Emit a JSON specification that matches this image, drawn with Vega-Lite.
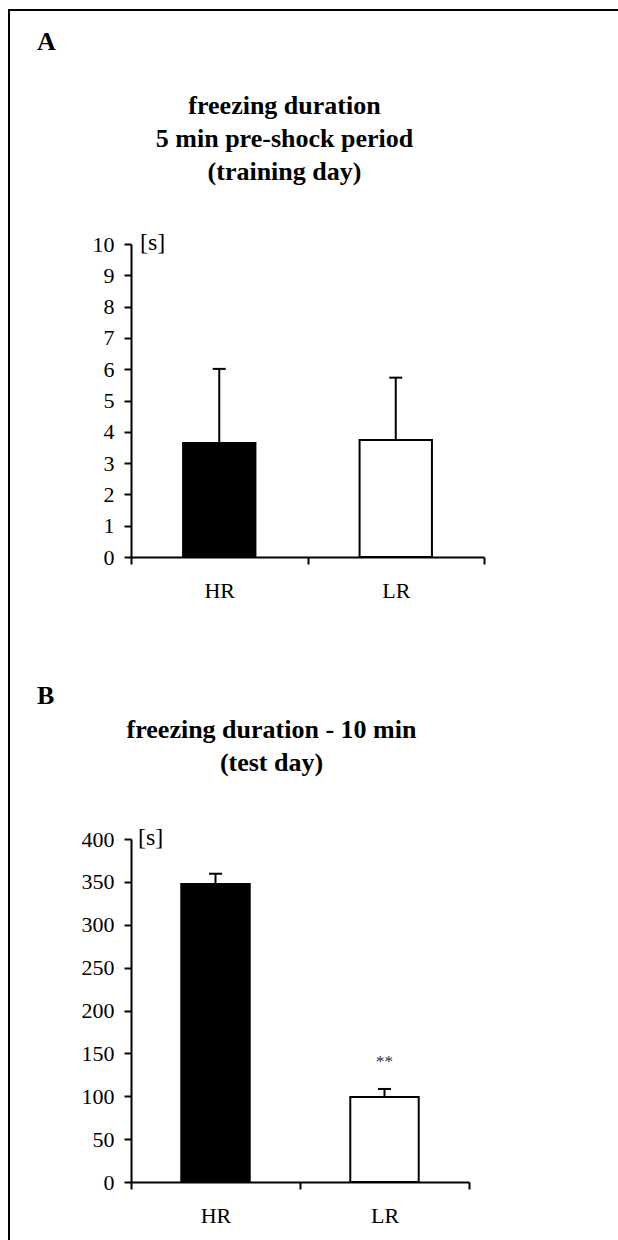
{
  "$schema": "https://vega.github.io/schema/vega-lite/v6.json",
  "background": "white",
  "padding": {"left": 8, "top": 9, "right": 0, "bottom": 0},
  "config": {
    "font": "Liberation Serif",
    "view": {"stroke": null},
    "axis": {
      "labelFont": "Liberation Serif",
      "labelFontSize": 22,
      "labelColor": "black",
      "domainColor": "black",
      "tickColor": "black",
      "domainWidth": 2,
      "tickWidth": 2,
      "tickSize": 7,
      "grid": false,
      "title": null,
      "labelPadding": 10,
      "labelOverlap": false
    },
    "axisX": {"labelPadding": 16, "labelAngle": 0, "tickBand": "extent"},
    "axisY": {"minExtent": 60},
    "title": {
      "font": "Liberation Serif",
      "fontWeight": "bold",
      "fontSize": 26,
      "color": "black",
      "lineHeight": 33
    },
    "concat": {"spacing": 82}
  },
  "datasets": {
    "training": [
      {"group": "HR", "freezing": 3.64, "upper": 6.01},
      {"group": "LR", "freezing": 3.74, "upper": 5.73}
    ],
    "trainingUnit": [{"unit": "[s]", "at": 10}],
    "test": [
      {"group": "HR", "freezing": 347.5, "upper": 359.5},
      {"group": "LR", "freezing": 99, "upper": 108.5}
    ],
    "testUnit": [{"unit": "[s]", "at": 400}],
    "testSig": [{"group": "LR", "at": 140, "label": "**"}]
  },
  "vconcat": [
    {
      "title": {"text": "A", "anchor": "start", "dx": -34, "offset": 38},
      "vconcat": [
        {
          "width": 353,
          "height": 313,
          "title": {
            "text": ["freezing duration", "5 min pre-shock period", "(training day)"],
            "anchor": "middle",
            "dx": -23,
            "offset": 46
          },
          "layer": [
            {
              "data": {"name": "training"},
              "mark": {"type": "bar", "width": {"band": 0.41}, "stroke": "black", "strokeWidth": 2},
              "encoding": {
                "x": {"field": "group", "type": "nominal", "scale": {"paddingInner": 0, "paddingOuter": 0}},
                "y": {"field": "freezing", "type": "quantitative", "scale": {"domain": [0, 10]}, "axis": {"values": [0, 1, 2, 3, 4, 5, 6, 7, 8, 9, 10], "tickCount": 11}},
                "fill": {"field": "group", "type": "nominal", "scale": {"domain": ["HR", "LR"], "range": ["black", "white"]}, "legend": null}
              }
            },
            {
              "data": {"name": "training"},
              "mark": {"type": "rule", "strokeWidth": 2, "color": "black"},
              "encoding": {
                "x": {"field": "group", "type": "nominal"},
                "y": {"field": "freezing", "type": "quantitative", "axis": {"values": [0, 1, 2, 3, 4, 5, 6, 7, 8, 9, 10], "tickCount": 11}},
                "y2": {"field": "upper"},
                "stroke": {
                  "field": "upper",
                  "type": "quantitative",
                  "scale": {"range": ["black", "black"]},
                  "legend": {
                    "orient": "none",
                    "legendX": -123,
                    "legendY": -235,
                    "direction": "vertical",
                    "gradientLength": 1231,
                    "gradientThickness": 2,
                    "gradientStrokeWidth": 0,
                    "title": null,
                    "labelExpr": "''",
                    "labelOpacity": 0,
                    "padding": 0
                  }
                }
              }
            },
            {
              "data": {"name": "training"},
              "mark": {"type": "tick", "size": 13, "thickness": 2, "color": "black", "opacity": 1},
              "encoding": {
                "x": {"field": "group", "type": "nominal"},
                "y": {"field": "upper", "type": "quantitative", "axis": {"values": [0, 1, 2, 3, 4, 5, 6, 7, 8, 9, 10], "tickCount": 11}}
              }
            },
            {
              "data": {"name": "trainingUnit"},
              "mark": {"type": "text", "fontSize": 24, "align": "left", "baseline": "alphabetic", "dx": 9, "dy": 6},
              "encoding": {
                "x": {"datum": "HR", "bandPosition": 0},
                "y": {"field": "at", "type": "quantitative", "axis": {"values": [0, 1, 2, 3, 4, 5, 6, 7, 8, 9, 10], "tickCount": 11}},
                "text": {"field": "unit"},
                "color": {
                  "field": "at",
                  "type": "quantitative",
                  "scale": {"range": ["black", "black"]},
                  "legend": {
                    "orient": "none",
                    "legendX": -123,
                    "legendY": -235,
                    "direction": "horizontal",
                    "gradientLength": 610,
                    "gradientThickness": 2,
                    "gradientStrokeWidth": 0,
                    "title": null,
                    "labelExpr": "''",
                    "labelOpacity": 0,
                    "padding": 0
                  }
                }
              }
            }
          ]
        }
      ]
    },
    {
      "title": {"text": "B", "anchor": "start", "dx": -34, "offset": 8},
      "vconcat": [
        {
          "width": 338,
          "height": 343,
          "title": {
            "text": ["freezing duration - 10 min", "(test day)"],
            "anchor": "middle",
            "dx": -28.5,
            "offset": 50
          },
          "layer": [
            {
              "data": {"name": "test"},
              "mark": {"type": "bar", "width": {"band": 0.405}, "stroke": "black", "strokeWidth": 2},
              "encoding": {
                "x": {"field": "group", "type": "nominal", "scale": {"paddingInner": 0, "paddingOuter": 0}},
                "y": {"field": "freezing", "type": "quantitative", "scale": {"domain": [0, 400]}, "axis": {"values": [0, 50, 100, 150, 200, 250, 300, 350, 400]}},
                "fill": {"field": "group", "type": "nominal", "scale": {"domain": ["HR", "LR"], "range": ["black", "white"]}, "legend": null}
              }
            },
            {
              "data": {"name": "test"},
              "mark": {"type": "rule", "strokeWidth": 2, "color": "black"},
              "encoding": {
                "x": {"field": "group", "type": "nominal"},
                "y": {"field": "freezing", "type": "quantitative"},
                "y2": {"field": "upper"}
              }
            },
            {
              "data": {"name": "test"},
              "mark": {"type": "tick", "size": 13, "thickness": 2, "color": "black", "opacity": 1},
              "encoding": {
                "x": {"field": "group", "type": "nominal"},
                "y": {"field": "upper", "type": "quantitative"}
              }
            },
            {
              "data": {"name": "testUnit"},
              "mark": {"type": "text", "fontSize": 24, "align": "left", "baseline": "alphabetic", "dx": 7, "dy": 6, "color": "black"},
              "encoding": {
                "x": {"datum": "HR", "bandPosition": 0},
                "y": {"field": "at", "type": "quantitative"},
                "text": {"field": "unit"}
              }
            },
            {
              "data": {"name": "testSig"},
              "mark": {"type": "text", "fontSize": 17, "baseline": "middle", "color": "#333333"},
              "encoding": {
                "x": {"field": "group", "type": "nominal"},
                "y": {"field": "at", "type": "quantitative"},
                "text": {"field": "label"}
              }
            }
          ]
        }
      ]
    }
  ]
}
